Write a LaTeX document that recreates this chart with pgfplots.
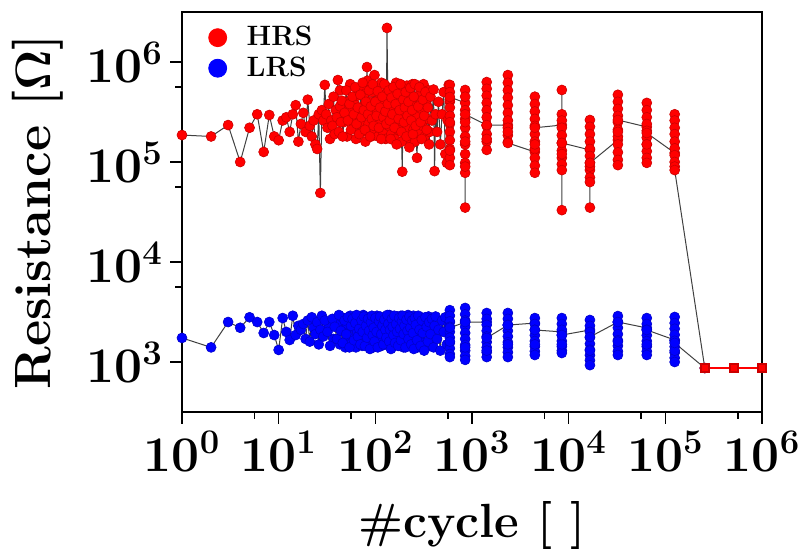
\documentclass[border=0pt]{standalone}
\usepackage{pgfplots}
\usepackage{pgfplotstable}
\pgfplotsset{compat=1.18}

\pgfplotstableread{
x y
1 186000
2 180000
3 234000
4 100000
5 220000
6 300000
7 126000
8 295000
9 180000
10 165000
11 260000
12 280000
13 200000
14 300000
15 370000
16 160000
17 240000
18 310000
19 200000
20 420000
21 230000
22 180000
23 260000
24 150000
25 135000
26 300000
27 49000
28 330000
29 260000
30 590000
31 300000
32 220000
33 380000
34 170000
35 260000
36 230000
37 450000
38 190000
39 330000
40 280000
41 660000
42 200000
43 360000
44 250000
45 410000
46 180000
48 310000
50 520000
52 260000
54 380000
56 210000
58 450000
60 300000
62 560000
64 240000
66 350000
68 190000
70 470000
72 280000
74 620000
76 330000
78 210000
80 400000
82 890000
84 300000
86 520000
88 180000
90 360000
92 270000
94 600000
96 230000
98 740000
100 400000
103 290000
106 510000
109 220000
112 350000
115 170000
118 450000
121 280000
124 600000
127 320000
130 240000
132 2190000
135 380000
138 520000
141 260000
144 170000
147 440000
150 300000
154 560000
158 220000
162 380000
166 150000
170 480000
174 270000
178 330000
182 600000
186 200000
190 80000
194 420000
198 250000
202 350000
206 500000
210 180000
215 290000
220 400000
225 140000
230 550000
235 260000
240 330000
245 190000
250 450000
256 600000
262 230000
270 110000
278 360000
286 560000
294 250000
302 170000
310 420000
320 290000
330 500000
340 210000
350 350000
360 150000
372 450000
385 260000
400 530000
410 81000
420 300000
435 200000
450 400000
470 150000
490 300000
510 500000
530 120000
550 98000
560 260000
575 590000
590 400000
590 590000
590 500000
590 420000
590 350000
590 290000
590 240000
590 200000
590 165000
590 135000
590 110000
590 93000
590 130000
590 250000
590 447000
850 390000
850 525000
850 450000
850 330000
850 270000
850 220000
850 180000
850 150000
850 120000
850 98000
850 78000
850 35000
850 90000
850 160000
850 250000
850 300000
1420 234000
1420 630000
1420 540000
1420 460000
1420 390000
1420 330000
1420 280000
1420 230000
1420 190000
1420 160000
1420 132000
1420 170000
1420 234000
2350 234000
2350 740000
2350 620000
2350 520000
2350 440000
2350 370000
2350 310000
2350 260000
2350 220000
2350 185000
2350 158000
2350 200000
2350 155000
4470 126000
4470 450000
4470 380000
4470 320000
4470 270000
4470 230000
4470 190000
4470 160000
4470 135000
4470 110000
4470 92000
4470 78000
4470 150000
4470 220000
8500 234000
8500 525000
8500 300000
8500 260000
8500 220000
8500 185000
8500 155000
8500 130000
8500 110000
8500 95000
8500 83000
8500 33000
8500 120000
8500 155000
16600 132000
16600 263000
16600 225000
16600 190000
16600 160000
16600 135000
16600 115000
16600 98000
16600 83000
16600 70000
16600 63000
16600 35000
16600 90000
16600 98000
32300 166000
32300 470000
32300 400000
32300 340000
32300 290000
32300 250000
32300 210000
32300 180000
32300 150000
32300 125000
32300 105000
32300 93000
32300 200000
32300 263000
64300 224000
64300 390000
64300 330000
64300 280000
64300 240000
64300 205000
64300 175000
64300 150000
64300 128000
64300 110000
64300 98000
64300 150000
64300 195000
125000 123000
125000 300000
125000 260000
125000 220000
125000 190000
125000 160000
125000 137000
125000 117000
125000 100000
125000 90000
125000 83000
256000 870
}\hrs

\pgfplotstableread{
x y
43 520000
47 250000
49 400000
51 180000
53 330000
55 600000
57 280000
59 220000
61 380000
63 170000
65 460000
67 300000
69 250000
71 560000
73 200000
75 360000
77 480000
79 160000
81 300000
83 650000
85 240000
87 400000
89 330000
91 180000
93 500000
95 280000
97 360000
99 210000
101 550000
104 330000
107 180000
110 420000
113 260000
116 620000
119 200000
122 370000
125 480000
128 170000
131 300000
134 560000
137 230000
140 400000
143 320000
146 190000
149 520000
152 270000
156 400000
160 170000
164 620000
168 300000
172 210000
176 450000
180 260000
184 370000
188 160000
192 540000
196 310000
200 200000
204 430000
208 260000
212 580000
218 220000
222 350000
228 170000
232 460000
238 280000
242 600000
248 210000
252 360000
258 160000
265 450000
274 290000
282 200000
290 480000
298 340000
306 230000
315 600000
325 180000
335 380000
345 270000
355 520000
365 200000
}\hrsextra

\pgfplotstableread{
x y
1 1740
2 1400
3 2510
4 2200
5 2800
6 2510
7 1950
8 2510
9 1860
10 1320
11 2750
12 2000
13 1660
14 2900
15 1860
16 2300
17 2100
18 2400
19 1700
20 2600
21 1600
22 2800
23 2200
24 1900
25 2500
26 1500
27 2100
28 2900
29 1800
30 2600
32 2000
34 1450
36 2700
38 2250
40 1700
42 2950
44 2050
46 1550
48 2600
50 1900
52 2800
54 1400
56 2300
58 2700
60 1650
62 2450
64 2950
66 1800
68 2150
70 1500
72 2600
74 2000
76 2850
78 1450
80 2300
82 1750
84 2700
86 2050
88 1350
90 2500
92 2900
94 1850
96 2200
98 1600
100 2750
103 2000
106 1400
109 2550
112 2850
115 1900
118 2300
121 1500
124 2650
127 2100
130 1750
133 2950
136 2400
139 1600
142 2100
145 1350
148 2700
151 2250
154 1850
157 2900
160 1550
164 2400
168 2000
172 1450
176 2750
180 2150
184 1650
188 2550
192 2900
196 1900
200 2300
205 1400
210 2650
215 2050
220 1700
225 2850
230 2200
235 1500
240 2600
245 1950
250 1350
256 2750
262 2350
270 1650
278 2900
286 2100
294 1450
302 2600
310 1950
320 1300
330 2800
340 2250
350 1600
360 2500
372 1900
385 2700
400 1400
410 2300
420 2850
435 1700
450 2100
470 1300
490 2600
510 2000
530 2800
550 1500
575 2400
590 2500
590 3300
590 2900
590 2550
590 2250
590 2000
590 1750
590 1550
590 1370
590 1200
590 1120
590 1600
590 2200
850 2500
850 3470
850 3000
850 2600
850 2250
850 1950
850 1700
850 1480
850 1300
850 1150
850 1050
850 1400
850 2510
1420 2510
1420 3090
1420 2700
1420 2350
1420 2050
1420 1800
1420 1580
1420 1400
1420 1250
1420 1120
1420 1300
1420 1740
2350 2340
2350 3090
2350 2700
2350 2350
2350 2050
2350 1800
2350 1580
2350 1400
2350 1250
2350 1120
2350 1500
2350 2340
4470 2450
4470 2750
4470 2400
4470 2100
4470 1850
4470 1620
4470 1430
4470 1280
4470 1175
4470 1500
4470 2090
8500 2000
8500 2750
8500 2400
8500 2100
8500 1850
8500 1620
8500 1430
8500 1300
8500 1230
8500 1500
8500 1860
16600 2090
16600 2630
16600 2300
16600 2000
16600 1750
16600 1520
16600 1330
16600 1170
16600 1040
16600 930
16600 1300
16600 1780
32300 2510
32300 2880
32300 2500
32300 2200
32300 1900
32300 1650
32300 1450
32300 1280
32300 1175
32300 1600
32300 2510
64300 2190
64300 2750
64300 2400
64300 2100
64300 1850
64300 1620
64300 1430
64300 1280
64300 1175
64300 1500
64300 2090
125000 1660
125000 2820
125000 2450
125000 2150
125000 1870
125000 1630
125000 1420
125000 1240
125000 1100
125000 1000
125000 1300
125000 1550
256000 870
}\lrs

\pgfplotstableread{
x y
33 2300
37 1700
41 2500
43 1500
45 2800
47 2100
49 1400
51 2400
53 1800
55 2900
57 1550
59 2200
61 2750
63 1400
65 2000
67 2600
69 1700
71 2300
73 1450
75 2950
77 1900
79 2500
81 1600
83 2150
85 2800
87 1500
89 2300
91 1800
93 2650
95 1400
97 2450
99 2000
101 1550
104 2900
107 2200
110 1700
113 2500
116 1450
119 2700
122 1900
125 2350
128 1500
131 2800
134 1800
137 2200
140 2950
143 1650
146 2450
149 1400
152 2000
156 2700
160 2250
164 1500
168 2850
172 1900
176 1450
180 2500
184 2900
188 1700
192 2150
196 1400
200 2750
204 1850
208 2400
212 1550
218 2950
222 2000
228 1450
232 2600
238 1800
242 2300
248 2900
252 1600
258 2150
265 2700
274 1400
282 2450
290 1900
298 2800
306 1550
315 2300
325 2700
335 1500
345 2000
355 2850
365 1450
}\lrsextra

\pgfplotstableread{
x y
256000 870
512000 870
1000000 870
}\fail

\begin{document}
\begin{tikzpicture}
\useasboundingbox (-91pt,-70pt) rectangle (309pt,206pt);
\begin{axis}[
  scale only axis, width=290pt, height=200pt,
  at={(0,0)}, anchor=south west,
  xmode=log, ymode=log,
  xmin=1, xmax=1e6, ymin=316.2, ymax=3162000,
  xtick={1,10,100,1000,10000,100000,1000000},
  ytick={1000,10000,100000,1000000},
  minor xtick={5.62,56.2,562,5620,56200,562000},
  minor ytick={5620,56200,562000},
  tick pos=left, tick align=outside,
  major tick length=6pt, minor tick length=3.5pt,
  tick style={black, line width=0.8pt},
  axis line style={line width=0.8pt},
  tick label style={font=\fontsize{23}{27}\selectfont\boldmath},
  xlabel={\#cycle [\ ]}, ylabel={Resistance [$\Omega$]},
  xlabel style={font=\fontsize{24}{28}\selectfont\bfseries\boldmath,
    at={(axis description cs:0.5,0)}, anchor=base, yshift=-63pt},
  ylabel style={font=\fontsize{25.5}{30}\selectfont\bfseries\boldmath,
    at={(axis description cs:-0.2259,0.5)}, anchor=base},
  legend style={draw=none, fill=none, at={(0.035,0.985)}, anchor=north west,
    font=\fontsize{14}{16}\selectfont\bfseries, row sep=0pt},
  legend cell align=left,
  clip=true,
]
\addlegendimage{only marks, mark=*, mark size=4.5pt, red}
\addlegendentry{\hspace{8pt}HRS}
\addlegendimage{only marks, mark=*, mark size=4.5pt, blue}
\addlegendentry{\hspace{8pt}LRS}
\addplot[forget plot, only marks, mark=*, mark size=2.5pt,
  mark options={draw=blue!80!black, fill=blue, line width=0.3pt}] table[x=x,y=y] {\lrsextra};
\addplot[forget plot, draw=black!75, line width=0.5pt, mark=*, mark size=2.5pt,
  mark options={draw=blue!80!black, fill=blue, line width=0.3pt}] table[x=x,y=y] {\lrs};
\addplot[forget plot, only marks, mark=*, mark size=2.5pt,
  mark options={draw=red!80!black, fill=red, line width=0.3pt}] table[x=x,y=y] {\hrsextra};
\addplot[forget plot, draw=black!75, line width=0.5pt, mark=*, mark size=2.5pt,
  mark options={draw=red!80!black, fill=red, line width=0.3pt}] table[x=x,y=y] {\hrs};
\addplot[forget plot, draw=red, line width=0.8pt, mark=square*, mark size=2pt,
  mark options={draw=red!80!black, fill=red}] table[x=x,y=y] {\fail};
\end{axis}
\end{tikzpicture}
\end{document}
